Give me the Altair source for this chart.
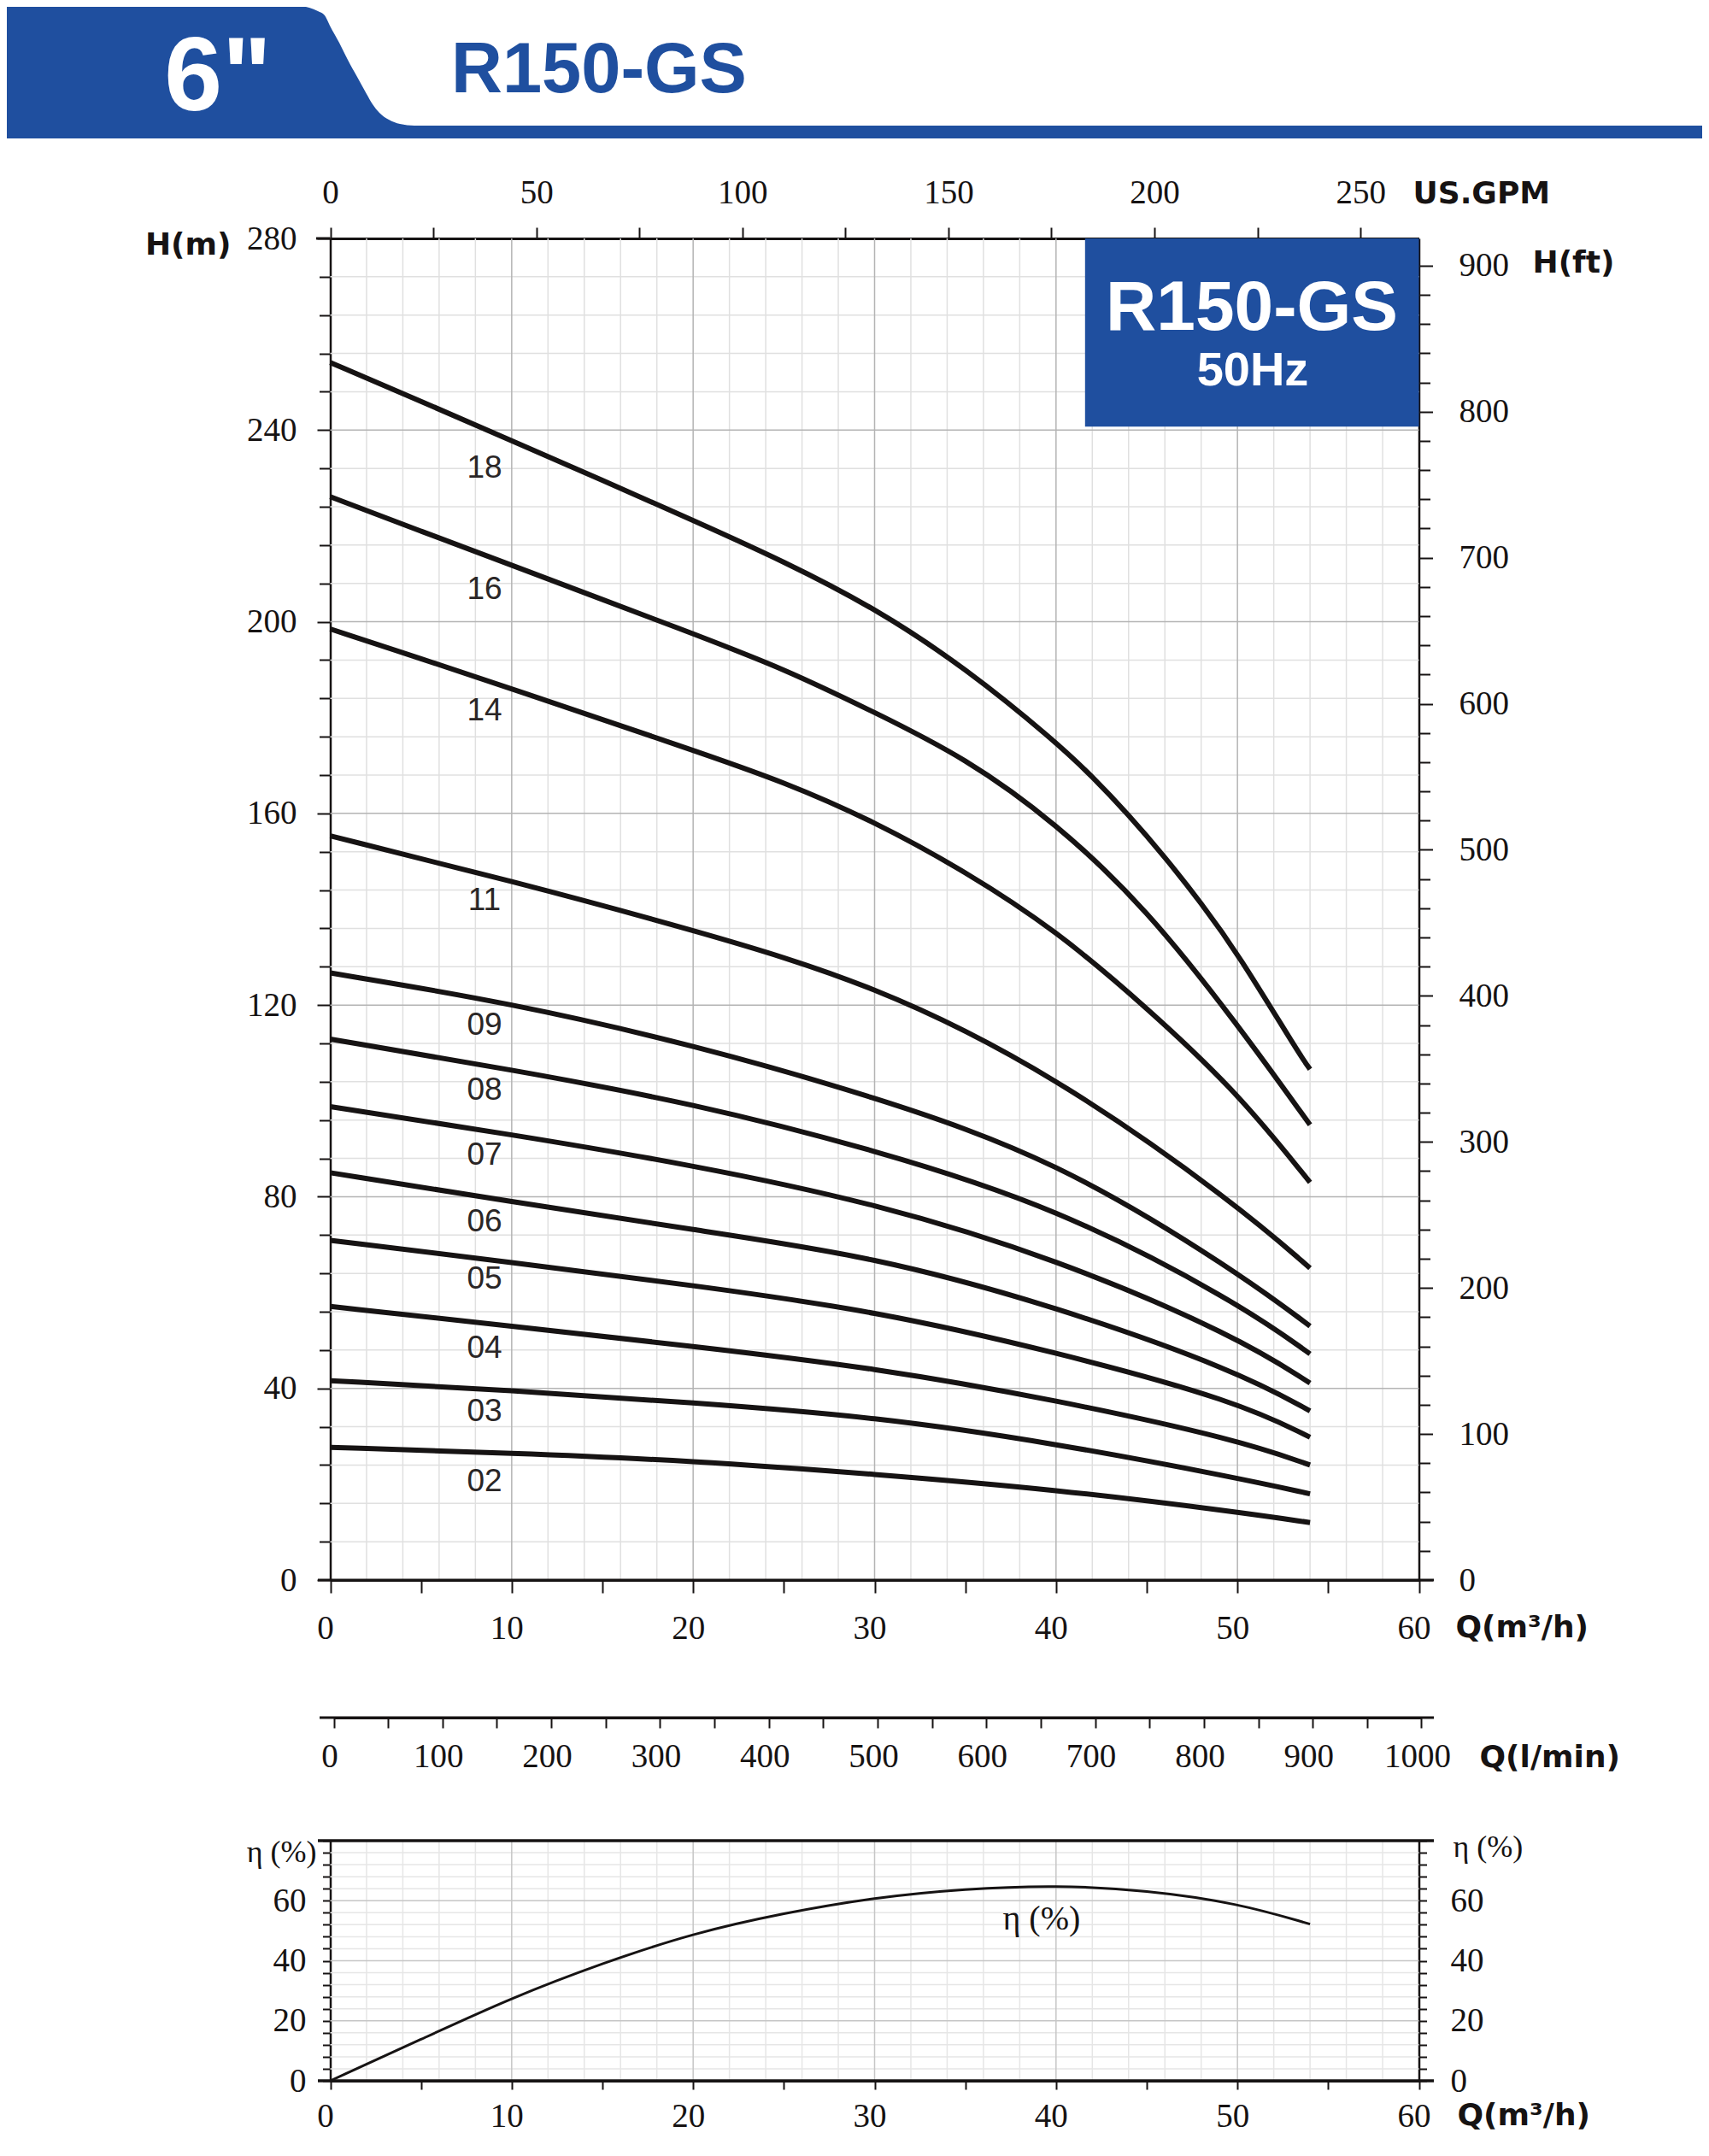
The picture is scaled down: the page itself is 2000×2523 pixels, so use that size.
import altair as alt
import pandas as pd

# ---------------- data ----------------
flow_q = [0, 10, 20, 30, 40, 50, 54]
head_02 = [27.7, 26.5, 24.9, 22.1, 18.9, 14.2, 12.0]
head_03 = [41.6, 39.6, 37.0, 34.1, 28.5, 21.3, 18.0]
head_04 = [57.1, 53.0, 48.8, 44.3, 37.6, 29.3, 24.0]
head_05 = [70.9, 66.3, 61.5, 56.2, 47.6, 37.3, 29.8]
head_06 = [85.0, 79.0, 73.1, 67.5, 57.1, 43.6, 35.3]
head_07 = [98.8, 93.0, 86.6, 78.7, 67.1, 50.8, 41.1]
head_08 = [112.9, 106.5, 99.5, 89.8, 77.9, 58.0, 47.2]
head_09 = [126.7, 120.4, 111.7, 100.9, 87.8, 64.3, 53.0]
head_11 = [155.3, 145.9, 135.7, 124.4, 105.3, 78.3, 65.1]
flow_q_hi = [0, 5, 10, 20, 25, 30, 35, 40, 45, 50, 54]
head_14 = [198.5, 192.3, 186.0, 173.2, 166.6, 158.3, 147.9, 135.6, 119.5, 101.8, 83.0]
head_16 = [226.1, 218.9, 211.8, 197.5, 190.2, 181.1, 171.6, 158.0, 140.1, 116.0, 95.0]
flow_q_18 = [0, 5, 10, 20, 25, 30, 35, 40, 42, 44, 46, 48, 50, 53.4, 54]
head_18 = [254.1, 246.0, 237.8, 221.2, 212.6, 202.9, 190.4, 174.9, 167.7, 159.7, 150.9, 141.3,
           130.9, 109.8, 106.6]

stage_names = ["18", "16", "14", "11", "09", "08", "07", "06", "05", "04", "03", "02"]
label_q = 8.5
label_h = [232.0, 206.7, 181.4, 141.8, 115.7, 102.2, 88.6, 74.7, 62.8, 48.4, 35.1, 20.5]

eff_q = [0, 5, 10, 15, 20, 25, 30, 35, 40, 45, 50, 54]
eff_pct = [0, 13.8, 27.7, 39.2, 49.2, 55.9, 61.1, 64.0, 65.2, 63.5, 59.2, 52.2]
eff_label_q, eff_label_pct = 39.2, 53.7

box_q = [41.6, 60]
box_h = [240.7, 280]

M_TO_FT = 3.28084
M3H_TO_GPM = 4.402868
M3H_TO_LPM = 1000 / 60

# header banner outline (page pixels, decoration)
banner_x = [0, 340, 352, 362, 372, 380, 386, 397, 407, 418, 429, 436, 444, 455, 468, 485, 2000]
banner_top = [6, 6, 7, 9, 13, 18, 30, 50, 70, 90, 110, 122, 132, 140, 145, 147, 147]
banner_bottom = [162] * len(banner_x)

# ---------------- layout ----------------
W, H = 1984, 2507
X0, X1 = 378.5, 1652.5
HB, HT = 1841.0, 271.0
EB, ET = 2427.0, 2146.0
LPM_Y = 2002.0
INK = "#161313"
BLUE = "#1f4f9f"
LABEL_FONT = "Liberation Serif"
TITLE_FONT = "DejaVu Sans"

q_scale = alt.Scale(domain=[0, 60], range=[X0, X1], nice=False, zero=False)
h_scale = alt.Scale(domain=[0, 280], range=[HB, HT], nice=False, zero=False)
ft_scale = alt.Scale(domain=[0, 280 * M_TO_FT], range=[HB, HT], nice=False, zero=False)
gpm_scale = alt.Scale(domain=[0, 60 * M3H_TO_GPM], range=[X0, X1], nice=False, zero=False)
lpm_scale = alt.Scale(domain=[0, 60 * M3H_TO_LPM], range=[X0 + 4, X1 + 3], nice=False, zero=False)
eff_scale = alt.Scale(domain=[0, 80], range=[EB, ET], nice=False, zero=False)
px_x = alt.Scale(domain=[8, 8 + W], range=[0, W], nice=False, zero=False)
px_y = alt.Scale(domain=[8, 8 + H], range=[0, H], nice=False, zero=False)


def axis(**kw):
    base = dict(labelFont=LABEL_FONT, labelFontSize=39, labelColor=INK,
                tickColor=INK, tickWidth=2, domainColor=INK, domainWidth=2.5,
                grid=False, labelFlush=False, labelOverlap=False, labelBound=False,
                titleFont=TITLE_FONT, titleFontWeight="bold", titleFontSize=36,
                titleColor=INK, titleAngle=0)
    base.update(kw)
    return alt.Axis(**base)


one = pd.DataFrame({"v": [0]})


def x_axis_layer(scale, ax):
    return alt.Chart(one).mark_point(opacity=0).encode(
        x=alt.X("v:Q", scale=scale, axis=ax), y=alt.value(0))


def y_axis_layer(scale, ax):
    return alt.Chart(one).mark_point(opacity=0).encode(
        y=alt.Y("v:Q", scale=scale, axis=ax), x=alt.value(0))


def vrules(values, scale, y0, y1, color):
    return alt.Chart(pd.DataFrame({"q": values})).mark_rule(stroke=color, strokeWidth=1.5).encode(
        x=alt.X("q:Q", scale=scale, axis=None), y=alt.value(y0), y2=alt.value(y1))


def hrules(values, scale, color):
    return alt.Chart(pd.DataFrame({"h": values})).mark_rule(stroke=color, strokeWidth=1.5).encode(
        y=alt.Y("h:Q", scale=scale, axis=None), x=alt.value(X0), x2=alt.value(X1))


def frame(xa, xb, y, w):
    return alt.Chart(one).mark_rule(stroke=INK, strokeWidth=w).encode(
        x=alt.value(xa), x2=alt.value(xb), y=alt.value(y))


MINOR = "#e0e0e0"
MAJOR = "#b4b4b4"
q_minor = [v for v in range(2, 60, 2) if v % 10]
q_major = [10, 20, 30, 40, 50]

layers = []
# ---- header banner ----
banner_df = pd.DataFrame({"x": banner_x, "y": banner_top, "b": banner_bottom})
layers.append(alt.Chart(banner_df).mark_area(color=BLUE, interpolate="monotone", orient="vertical").encode(
    x=alt.X("x:Q", scale=px_x, axis=None), y=alt.Y("y:Q", scale=px_y, axis=None), y2="b:Q"))
layers.append(alt.Chart(one).mark_text(text='6"', font="Liberation Sans", fontWeight="bold",
                                       fontSize=122, color="white", align="center", baseline="alphabetic")
              .encode(x=alt.value(247), y=alt.value(121)))
layers.append(alt.Chart(one).mark_text(text="R150-GS", font="Liberation Sans", fontWeight="bold",
                                       fontSize=83, color=BLUE, align="left", baseline="alphabetic")
              .encode(x=alt.value(520), y=alt.value(100)))

# ---- main grid ----
layers.append(vrules(q_minor, q_scale, HT, HB, MINOR))
layers.append(hrules([v for v in range(8, 280, 8) if v % 40], h_scale, MINOR))
layers.append(vrules(q_major, q_scale, HT, HB, MAJOR))
layers.append(hrules([40, 80, 120, 160, 200, 240], h_scale, MAJOR))

# ---- blue legend box ----
box_df = pd.DataFrame({"q0": [box_q[0]], "q1": [box_q[1]], "h0": [box_h[0]], "h1": [box_h[1]]})
layers.append(alt.Chart(box_df).mark_rect(color=BLUE).encode(
    x=alt.X("q0:Q", scale=q_scale, axis=None), x2="q1:Q",
    y=alt.Y("h0:Q", scale=h_scale, axis=None), y2="h1:Q"))
layers.append(alt.Chart(one).mark_text(text="R150-GS", font="Liberation Sans", fontWeight="bold",
                                       fontSize=82, color="white", align="center", baseline="alphabetic")
              .encode(x=alt.value(1457), y=alt.value(378)))
layers.append(alt.Chart(one).mark_text(text="50Hz", font="Liberation Sans", fontWeight="bold",
                                       fontSize=56, color="white", align="center", baseline="alphabetic")
              .encode(x=alt.value(1458), y=alt.value(443)))

# ---- pump curves ----
series = [("02", flow_q, head_02), ("03", flow_q, head_03), ("04", flow_q, head_04),
          ("05", flow_q, head_05), ("06", flow_q, head_06), ("07", flow_q, head_07),
          ("08", flow_q, head_08), ("09", flow_q, head_09), ("11", flow_q, head_11),
          ("14", flow_q_hi, head_14), ("16", flow_q_hi, head_16), ("18", flow_q_18, head_18)]
rows = []
for name, qs, hs in series:
    for q, h in zip(qs, hs):
        rows.append({"stage": name, "q": q, "h": h})
curves_df = pd.DataFrame(rows)

layers.append(alt.Chart(curves_df).mark_line(color=INK, strokeWidth=6, interpolate="basis").encode(
    x=alt.X("q:Q", scale=q_scale, axis=axis(
        orient="bottom", offset=HB - H, values=list(range(0, 61, 5)),
        labelExpr="datum.value % 10 == 0 ? datum.label : ''", tickSize=15, labelPadding=22,
        domainWidth=3, labelOffset=-6, title="Q(m³/h)", titleX=1695, titleY=66,
        titleAlign="left", titleBaseline="alphabetic")),
    y=alt.Y("h:Q", scale=h_scale, axis=axis(
        orient="left", offset=-X0, values=list(range(0, 281, 40)), tickSize=15.5,
        labelPadding=24, title="H(m)", titleX=-116.5, titleY=289,
        titleAlign="right", titleBaseline="alphabetic")),
    detail="stage:N"))

labels_df = pd.DataFrame({"stage": stage_names, "q": [label_q] * len(stage_names), "h": label_h})
layers.append(alt.Chart(labels_df).mark_text(font="Liberation Sans", fontSize=37, color="#2a2626",
                                            align="center", baseline="middle").encode(
    x=alt.X("q:Q", scale=q_scale, axis=None), y=alt.Y("h:Q", scale=h_scale, axis=None), text="stage:N"))

# ---- extra axes of the main chart ----
layers.append(y_axis_layer(h_scale, axis(orient="left", offset=-X0,
                                         values=[v for v in range(8, 280, 8) if v % 40],
                                         tickSize=13, labels=False, domain=False, title=None)))
layers.append(y_axis_layer(ft_scale, axis(orient="right", offset=X1 - W, values=list(range(0, 901, 100)),
                                          tickSize=16, labelPadding=30.5, title="H(ft)",
                                          titleX=132.5, titleY=310, titleAlign="left",
                                          titleBaseline="alphabetic")))
layers.append(y_axis_layer(ft_scale, axis(orient="right", offset=X1 - W,
                                          values=[v for v in range(20, 920, 20) if v % 100],
                                          tickSize=13, labels=False, domain=False, title=None)))
layers.append(x_axis_layer(gpm_scale, axis(orient="top", offset=-HT, values=list(range(0, 251, 25)),
                                           labelExpr="datum.value % 50 == 0 ? datum.label : ''",
                                           tickSize=13, labelPadding=21, domainWidth=3,
                                           title="US.GPM", titleX=1645, titleY=-42,
                                           titleAlign="left", titleBaseline="alphabetic")))
layers.append(x_axis_layer(lpm_scale, axis(orient="bottom", offset=LPM_Y - H, values=list(range(0, 1001, 50)),
                                           format="d",
                                           labelExpr="datum.value % 100 == 0 ? datum.label : ''",
                                           tickSize=12, labelPadding=14, domainWidth=3, labelOffset=-5,
                                           title="Q(l/min)", titleX=1723, titleY=57,
                                           titleAlign="left", titleBaseline="alphabetic")))
layers.append(frame(362, X0, HT, 3))
layers.append(frame(364, 1670, HB, 3))
layers.append(frame(366, 1670, LPM_Y, 3))

# ---- efficiency chart ----
EMINOR = "#e6e6e6"
EMAJOR = "#c6c6c6"
layers.append(vrules(q_minor, q_scale, ET, EB, EMINOR))
layers.append(hrules([v for v in range(4, 80, 4) if v % 20], eff_scale, EMINOR))
layers.append(vrules(q_major, q_scale, ET, EB, EMAJOR))
layers.append(hrules([20, 40, 60], eff_scale, EMAJOR))

eff_df = pd.DataFrame({"q": eff_q, "eta": eff_pct})
layers.append(alt.Chart(eff_df).mark_line(color=INK, strokeWidth=3, interpolate="basis").encode(
    x=alt.X("q:Q", scale=q_scale, axis=axis(
        orient="bottom", offset=EB - H, values=list(range(0, 61, 5)),
        labelExpr="datum.value % 10 == 0 ? datum.label : ''", tickSize=10, labelPadding=12,
        domainWidth=3, labelOffset=-6, title="Q(m³/h)", titleX=1697, titleY=40,
        titleAlign="left", titleBaseline="middle")),
    y=alt.Y("eta:Q", scale=eff_scale, axis=axis(
        orient="left", offset=-X0, values=list(range(0, 81, 4)),
        labelExpr="datum.value % 20 == 0 && datum.value < 80 ? datum.label : ''",
        tickSize=9, labelPadding=19.5, domainWidth=2.5, title="η (%)", titleFont=LABEL_FONT,
        titleFontWeight="normal", titleFontSize=36, titleX=-16.5, titleY=2159,
        titleAlign="right", titleBaseline="middle"))))
layers.append(y_axis_layer(eff_scale, axis(
    orient="right", offset=X1 - W, values=list(range(0, 81, 4)),
    labelExpr="datum.value % 20 == 0 && datum.value < 80 ? datum.label : ''",
    tickSize=9, labelPadding=27.5, title="η (%)", titleFont=LABEL_FONT, titleFontWeight="normal",
    titleFontSize=36, titleX=39.5, titleY=2153, titleAlign="left", titleBaseline="middle")))
eff_lab = pd.DataFrame({"q": [eff_label_q], "eta": [eff_label_pct], "t": ["η (%)"]})
layers.append(alt.Chart(eff_lab).mark_text(font=LABEL_FONT, fontSize=40, color=INK,
                                           align="center", baseline="middle").encode(
    x=alt.X("q:Q", scale=q_scale, axis=None), y=alt.Y("eta:Q", scale=eff_scale, axis=None), text="t:N"))
layers.append(frame(364, 1670, ET, 3.5))
layers.append(frame(364, 1670, EB, 3.5))

chart = alt.layer(*layers).resolve_scale(x="independent", y="independent").properties(
    width=W, height=H, padding=0, background="white",
    autosize=alt.AutoSizeParams(type="none"),
).configure_view(stroke=None)

chart.save("out.html", embed_options={"renderer": "svg", "actions": False})
